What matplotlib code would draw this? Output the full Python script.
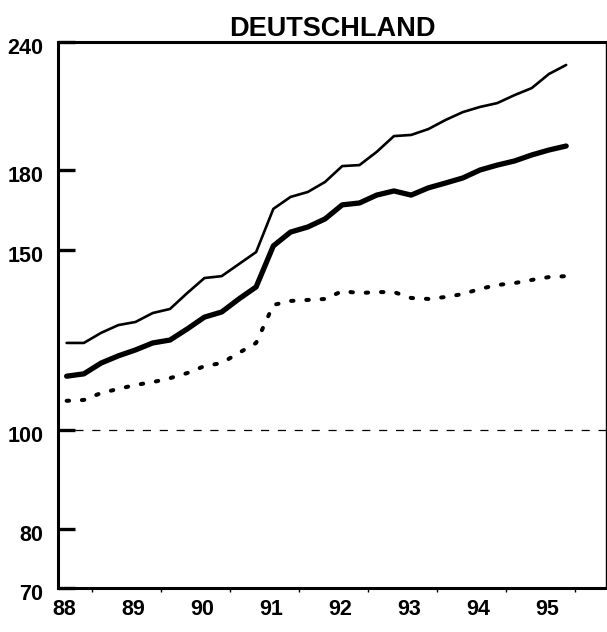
import numpy as np
import matplotlib
matplotlib.use("Agg")
import matplotlib.pyplot as plt
import matplotlib.transforms as mtransforms
from matplotlib.ticker import FixedLocator, NullLocator, NullFormatter

plt.rcParams['font.family'] = ['Liberation Sans', 'DejaVu Sans']

# quarterly index values, 88Q1 .. 95Q2 (plotted at mid-quarter)
quarters = np.arange(30)
upper = [121.7, 121.7, 124.5, 126.7, 127.6, 130.2, 131.4, 136.2, 140.9, 141.5,
         145.4, 149.4, 164.7, 169.2, 171.1, 175.0, 181.4, 181.8, 187.3, 194.1,
         194.6, 197.2, 201.3, 204.9, 207.3, 209.1, 212.9, 216.3, 223.3, 227.9]
middle = [112.9, 113.5, 116.3, 118.2, 119.8, 121.7, 122.5, 125.6, 129.0, 130.5,
          134.4, 138.1, 151.5, 156.3, 158.1, 161.0, 166.2, 166.9, 169.9, 171.5,
          169.9, 172.7, 174.6, 176.6, 179.8, 181.8, 183.5, 186.0, 188.1, 189.8]
lower = [106.8, 107.0, 108.7, 109.7, 110.7, 111.4, 112.4, 113.7, 115.5, 116.3,
         119.0, 121.7, 132.6, 133.8, 134.1, 134.4, 136.8, 136.2, 136.5, 136.5,
         134.7, 134.4, 135.0, 135.9, 137.5, 138.7, 139.3, 140.3, 141.2, 141.5]
years = [88, 89, 90, 91, 92, 93, 94, 95]
yticks = [70, 80, 100, 150, 180, 240]
baseline = 100

x = 88 + (quarters + 0.5) / 4.0

fig = plt.figure(figsize=(6.07, 6.32), dpi=100)
ax = fig.add_axes([0.0956, 0.0696, 0.9024, 0.8639])

ax.plot(x, upper, color='black', lw=1.9, solid_joinstyle='round', solid_capstyle='round')
ax.plot(x, middle, color='black', lw=3.8, solid_joinstyle='round', solid_capstyle='round')
ax.plot(x, lower, color='black', lw=2.9, linestyle=(0, (0.6, 3.2)), dash_capstyle='round')
ax.axhline(baseline, color='black', lw=0.9, linestyle=(0, (6.5, 7.0)))

ax.set_yscale('log')
ax.set_ylim(70, 240)
ax.set_xlim(88, 95.95)

ax.yaxis.set_major_locator(FixedLocator(yticks))
ax.yaxis.set_minor_locator(NullLocator())
ax.yaxis.set_minor_formatter(NullFormatter())
ax.set_yticklabels([str(v) for v in yticks])
ax.tick_params(axis='y', which='major', direction='in', length=12, width=2.4,
               pad=10.5, labelsize=15.5)
for lab in ax.get_yticklabels():
    lab.set_fontweight('bold')
    lab.set_transform(lab.get_transform() + mtransforms.ScaledTranslation(0, -4 / 100, fig.dpi_scale_trans))

ax.set_xticks(years)
ax.set_xticklabels([str(y) for y in years])
ax.xaxis.set_minor_locator(FixedLocator(np.arange(88, 96, 0.5)))
ax.tick_params(axis='x', which='major', length=0, pad=8, labelsize=15.5)
ax.tick_params(axis='x', which='minor', direction='out', length=3, width=1)
for lab in ax.get_xticklabels():
    lab.set_fontweight('bold')
    lab.set_transform(lab.get_transform() + mtransforms.ScaledTranslation(6.5 / 100, 0, fig.dpi_scale_trans))

for side in ['left', 'bottom', 'top']:
    ax.spines[side].set_linewidth(2.2)
ax.spines['right'].set_linewidth(1.0)

ax.set_title('DEUTSCHLAND', fontsize=19.5, fontweight='bold', pad=3)

fig.savefig('out.png', dpi=100)
